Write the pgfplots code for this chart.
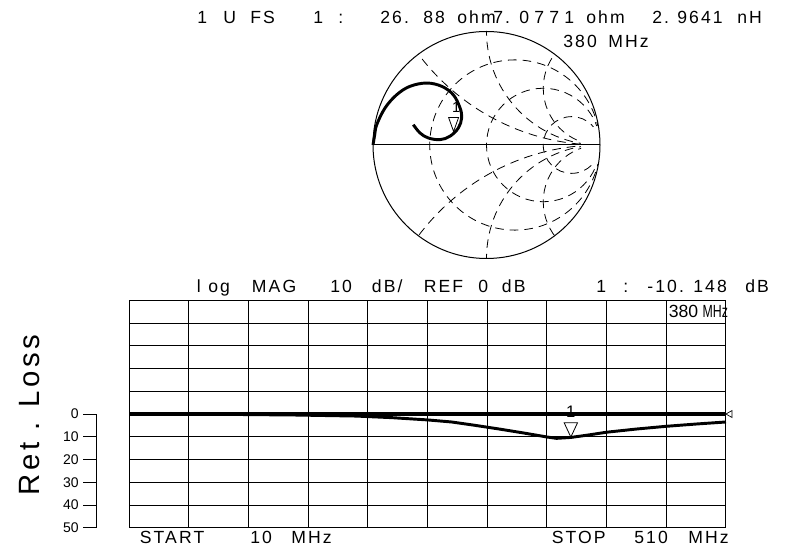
\documentclass[border=0pt]{standalone}
\usepackage{pgfplots}
\pgfplotsset{compat=1.18}
\usepackage{fontspec}
\setmainfont{Liberation Sans}
\newfontfamily\hpfamily[LetterSpace=12]{Liberation Sans}
\newfontfamily\hpwide[LetterSpace=30]{Liberation Sans}
\newfontfamily\wide[LetterSpace=12]{Liberation Sans}
\newcommand\hp{\hpfamily\fontsize{13.2}{14}\selectfont}

% log MAG trace: frequency (MHz) vs return loss (dB)
\pgfplotstableread{
f     db
10    0
50   -0.1
100  -0.2
150  -0.45
200  -0.9
230  -1.6
260  -2.6
280  -3.5
300  -5.0
320  -6.6
340  -8.3
360  -10.1
368  -10.7
380  -10.3
395  -9.2
410  -8.0
435  -6.6
460  -5.4
485  -4.4
510  -3.5
}\logmag

\begin{document}
\begin{tikzpicture}[x=0.75pt,y=0.75pt,
  txt/.style={font=\hp, anchor=base west, inner sep=0pt},
  smithgrid/.style={line width=0.6pt, dash pattern=on 6.5pt off 4.5pt}]
\useasboundingbox (0,0) rectangle (798,549);

% ---- Smith chart ----
\begin{axis}[at={(364.875pt,303pt)}, anchor=center, scale only axis,
  width=170.25pt, height=170.25pt,
  xmin=-1, xmax=1, ymin=-1, ymax=1, hide axis, clip=false]
  \begin{scope}
    \clip (axis cs:0,0) circle [radius=1];
    \begin{scope}[even odd rule]
      \clip (axis cs:-1.2,-1.2) rectangle (axis cs:1.2,1.2)
            (axis cs:1,0) circle [radius=0.17];
      \draw[smithgrid] (axis cs:0.25,0) circle [radius=0.75];
      \draw[smithgrid] (axis cs:0.5,0) circle [radius=0.5];
      \draw[smithgrid] (axis cs:0.75,0) circle [radius=0.25];
      \draw[smithgrid] (axis cs:1,2) circle [radius=2];
      \draw[smithgrid] (axis cs:1,-2) circle [radius=2];
      \draw[smithgrid] (axis cs:1,1) circle [radius=1];
      \draw[smithgrid] (axis cs:1,-1) circle [radius=1];
      \draw[smithgrid] (axis cs:1,0.5) circle [radius=0.5];
      \draw[smithgrid] (axis cs:1,-0.5) circle [radius=0.5];
    \end{scope}
  \end{scope}
  \draw[line width=0.75pt] (axis cs:0,0) circle [radius=1];
  \draw[line width=0.75pt] (axis cs:-1,0) -- (axis cs:1,0);
  \addplot[line width=2.2pt, smooth, tension=0.6] coordinates {
    (-1.0,0.0) (-0.985,0.09) (-0.967,0.179) (-0.894,0.326) (-0.791,0.443)
    (-0.674,0.517) (-0.527,0.546) (-0.395,0.517) (-0.293,0.443)
    (-0.233,0.326) (-0.219,0.238) (-0.248,0.150) (-0.322,0.077)
    (-0.410,0.047) (-0.513,0.062) (-0.586,0.106) (-0.645,0.179)};
  \addplot[only marks, mark=triangle, mark size=4.33pt,
    mark options={yshift=7pt, rotate=180, yscale=1.62, fill=white, line width=0.6pt}]
    coordinates {(-0.29,0.119)};
  \node[font=\fontsize{11}{12}\selectfont, anchor=base, inner sep=0pt, xshift=2pt, yshift=13.9pt]
    at (axis cs:-0.29,0.119) {1};
\end{axis}

% ---- log MAG grid ----
\begin{axis}[at={(96.975pt,15.94pt)}, anchor=south west, scale only axis,
  width=447.5pt, height=170.6pt,
  xmin=10, xmax=510, ymin=-50, ymax=50,
  xtick={10,60,...,510}, ytick={-50,-40,...,50},
  xticklabels={}, yticklabels={}, major tick length=0pt,
  grid=major, major grid style={black, line width=0.75pt},
  axis line style={line width=0.75pt}, clip=false]
  \addplot[line width=3pt] coordinates {(10,0) (510,0)};
  \addplot[line width=2.2pt] table[x=f, y=db] {\logmag};
  \addplot[only marks, mark=triangle, mark size=5.77pt,
    mark options={yshift=7.15pt, rotate=180, yscale=1.24, fill=white, line width=0.6pt}]
    coordinates {(380,-10.15)};
  \addplot[only marks, mark=triangle, mark size=3pt,
    mark options={xshift=3pt, rotate=90, fill=white, line width=0.5pt}]
    coordinates {(510,0)};
  \node[font=\fontsize{12.5}{13}\selectfont, anchor=base, inner sep=0pt, yshift=15pt]
    at (axis cs:380,-10.15) {1};
\end{axis}

% ---- Ret. Loss scale ----
\begin{axis}[at={(72.525pt,15.94pt)}, anchor=south west, scale only axis,
  width=10pt, height=85.3pt,
  xmin=0, xmax=1, ymin=0, ymax=50, y dir=reverse,
  axis y line=left, axis x line=none,
  axis line style={-, line width=0.75pt},
  ytick={0,10,...,50}, xtick=\empty,
  tick align=outside, major tick length=10pt,
  tick style={black, line width=0.75pt},
  yticklabel style={font=\fontsize{10.5}{12}\selectfont},
  /pgf/number format/assume math mode=true]
  \addplot[draw=none] coordinates {(0,0)};
\end{axis}

\node[rotate=90, font=\wide\fontsize{22}{24}\selectfont, inner sep=0pt] at (30,134) {Ret . Loss};

% ---- header line 1 ----
\node[txt] at (197,525) {1};
\node[txt] at (223,525) {U};
\node[txt] at (250,525) {FS};
\node[txt] at (313,525) {1};
\node[txt] at (338,525) {:};
\node[txt] at (380,525) {26.};
\node[txt] at (423,525) {88};
\node[txt] at (457,525) {ohm};
\node[txt] at (493,525) {7.};
\node[txt, font=\hpwide\fontsize{13.2}{14}\selectfont] at (519,525) {0771};
\node[txt] at (586,525) {ohm};
\node[txt] at (652,525) {2.};
\node[txt] at (677,525) {9641};
\node[txt] at (737,525) {nH};
\node[txt] at (563,501) {380};
\node[txt] at (608,501) {MHz};

% ---- header of log MAG ----
\node[txt] at (196.7,256) {l};
\node[txt] at (208,256) {og};
\node[txt] at (251.7,256) {MAG};
\node[txt] at (330,256) {10};
\node[txt] at (371.7,256) {dB/};
\node[txt] at (423.5,256) {REF};
\node[txt] at (478,256) {0};
\node[txt] at (501.6,256) {dB};
\node[txt] at (596,256) {1};
\node[txt] at (623,256) {:};
\node[txt] at (647,256) {-10. 148};
\node[txt] at (745,256) {dB};
\node[font=\fontsize{13.2}{14}\selectfont, anchor=base west, inner sep=0pt] at (668.6,231) {380};
\node[font=\fontsize{13.2}{14}\selectfont, anchor=base west, inner sep=0pt, xscale=0.7] at (702.5,231) {MHz};

% ---- footer ----
\node[txt] at (139.5,6) {START};
\node[txt] at (250,6) {10};
\node[txt] at (291,6) {MHz};
\node[txt] at (551.5,6) {STOP};
\node[txt] at (634,6) {510};
\node[txt] at (688,6) {MHz};
\end{tikzpicture}
\end{document}
